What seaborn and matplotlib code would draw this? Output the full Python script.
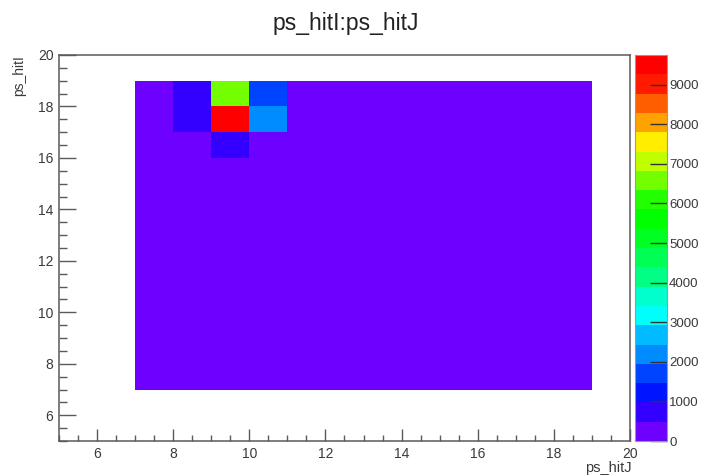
import colorsys

import numpy as np
import pandas as pd
import matplotlib

matplotlib.use("Agg")
import matplotlib.pyplot as plt
import seaborn as sns
from matplotlib.colors import ListedColormap
from matplotlib.ticker import MultipleLocator

# Lower bin edges of the filled region (unit bins from 7 to 19)
hit_j = [7, 8, 9, 10, 11, 12, 13, 14, 15, 16, 17, 18]
hit_i = [7, 8, 9, 10, 11, 12, 13, 14, 15, 16, 17, 18]

# The flat region: every cell lands in the lowest colour band
background_count = 150

# Cells that stand out from the background
hot_j = [8, 8, 9, 9, 9, 10, 10]
hot_i = [17, 18, 16, 17, 18, 17, 18]
hot_count = [700, 720, 650, 9750, 6500, 2200, 1700]

z_max = 9750
cbar_ticks = [0, 1000, 2000, 3000, 4000, 5000, 6000, 7000, 8000, 9000]

# Hue of each of the 20 colour bands (violet -> red)
level_hues = [266, 252, 235, 224, 207, 196, 179, 168, 151, 140,
              128, 120, 112, 93, 75, 56, 38, 22, 6, 0]


def build_table():
    hot = {(j, i): c for j, i, c in zip(hot_j, hot_i, hot_count)}
    rows = []
    for j in hit_j:
        for i in hit_i:
            rows.append(
                {
                    "ps_hitJ": j + 0.5,
                    "ps_hitI": i + 0.5,
                    "count": hot.get((j, i), background_count),
                }
            )
    return pd.DataFrame(rows)


def main():
    df = build_table()

    plt.style.use("default")
    plt.rcParams["font.family"] = ["Liberation Sans", "DejaVu Sans"]
    edge_col = "#5a5a5a"
    text_col = "#3a3a3a"

    fig = plt.figure(figsize=(7.02, 4.75), dpi=100)
    ax = fig.add_axes([59 / 702, 1 - 441 / 475, 571 / 702, 386 / 475])
    cax = fig.add_axes([635 / 702, 1 - 441 / 475, 32 / 702, 386 / 475])

    # ROOT-like rainbow palette, one colour per contour level
    cmap = ListedColormap([colorsys.hls_to_rgb(h / 360, 0.5, 1.0) for h in level_hues])
    edges_j = hit_j + [hit_j[-1] + 1]
    edges_i = hit_i + [hit_i[-1] + 1]

    sns.histplot(
        data=df,
        x="ps_hitJ",
        y="ps_hitI",
        weights="count",
        bins=(edges_j, edges_i),
        cmap=cmap,
        vmin=0,
        vmax=z_max,
        cbar=True,
        cbar_ax=cax,
        cbar_kws={"ticks": cbar_ticks},
        ax=ax,
    )

    ax.set_xlim(5, 20)
    ax.set_ylim(5, 20)
    ax.xaxis.set_major_locator(MultipleLocator(2))
    ax.yaxis.set_major_locator(MultipleLocator(2))
    ax.xaxis.set_minor_locator(MultipleLocator(0.5))
    ax.yaxis.set_minor_locator(MultipleLocator(0.5))
    ax.tick_params(axis="both", which="both", direction="in", colors=edge_col,
                   labelcolor=text_col, labelsize=10, width=1)
    ax.tick_params(axis="y", which="major", length=12, pad=4)
    ax.tick_params(axis="y", which="minor", length=6)
    ax.tick_params(axis="x", which="major", length=8.5, pad=4)
    ax.tick_params(axis="x", which="minor", length=4.3)
    for sp in ax.spines.values():
        sp.set_color(edge_col)
        sp.set_linewidth(1.1)

    ax.set_xlabel("ps_hitJ", fontsize=10.5, color=text_col, loc="right")
    ax.set_ylabel("ps_hitI", fontsize=10, color=text_col, loc="top")
    ax.xaxis.set_label_coords(1.003, -0.052)
    ax.yaxis.set_label_coords(-0.058, 1.0)

    fig.suptitle("ps_hitI:ps_hitJ", fontsize=16.5, color="#222222", x=0.493, y=0.975)

    # colour bar labels kept just inside the right edge
    cax.tick_params(direction="in", length=12, width=1, colors="#333333",
                    labelcolor=text_col, labelsize=9.5, pad=1.5)
    cax.yaxis.set_minor_locator(plt.NullLocator())
    for sp in cax.spines.values():
        sp.set_color("#999999")
        sp.set_linewidth(0.8)

    fig.savefig("out.png", dpi=100)
    plt.close(fig)


if __name__ == "__main__":
    main()
